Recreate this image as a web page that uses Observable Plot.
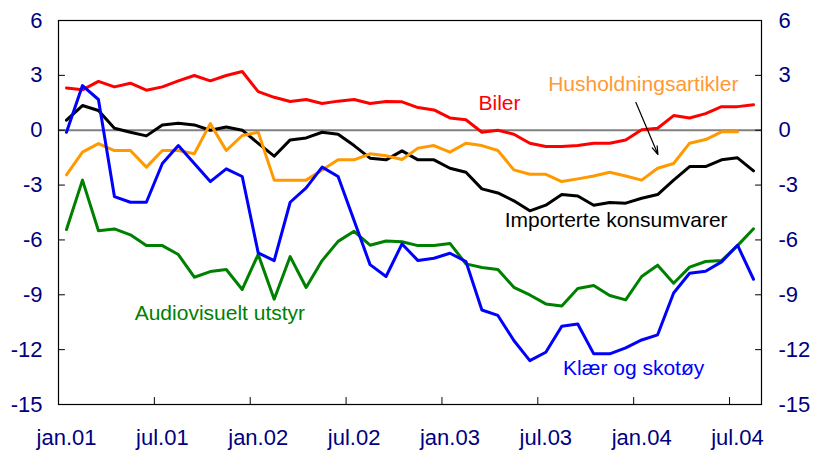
<!DOCTYPE html>
<html>
<head>
<meta charset="utf-8">
<script src="https://cdn.jsdelivr.net/npm/d3@7"></script>
<script src="https://cdn.jsdelivr.net/npm/@observablehq/plot@0.6"></script>
<style>
  html, body { margin: 0; padding: 0; background: #fff; }
  #chart svg { display: block; }
</style>
</head>
<body>
<div id="chart"></div>
<script>
// Monthly observations, jan.01 – aug.04 (44 months), index 0..43
const xTickIdx = [0, 6, 12, 18, 24, 30, 36, 42];
const xTickLabels = ["jan.01", "jul.01", "jan.02", "jul.02", "jan.03", "jul.03", "jan.04", "jul.04"];
const yTicks = [6, 3, 0, -3, -6, -9, -12, -15];

const importerte = [0.55, 1.35, 1.08, 0.11, -0.11, -0.31, 0.29, 0.38, 0.29, 0.0,
  0.18, 0.0, -0.72, -1.42, -0.53, -0.42, -0.11, -0.22, -0.84, -1.53,
  -1.62, -1.13, -1.62, -1.62, -2.08, -2.30, -3.21, -3.43, -3.86, -4.41,
  -4.10, -3.52, -3.60, -4.10, -3.95, -3.99, -3.72, -3.52, -2.73, -1.99,
  -1.99, -1.62, -1.51, -2.22];
const biler = [2.31, 2.21, 2.67, 2.37, 2.57, 2.19, 2.37, 2.70, 2.99, 2.70,
  2.99, 3.21, 2.11, 1.80, 1.57, 1.68, 1.46, 1.59, 1.68, 1.46,
  1.57, 1.55, 1.24, 1.11, 0.67, 0.57, -0.11, 0.0, -0.22, -0.71,
  -0.89, -0.89, -0.84, -0.71, -0.71, -0.53, 0.02, 0.11, 0.80, 0.67,
  0.91, 1.29, 1.29, 1.39];
const husholdning = [-2.44, -1.20, -0.73, -1.11, -1.11, -2.02, -1.11, -1.11, -1.29, 0.36,
  -1.11, -0.29, -0.11, -2.73, -2.73, -2.73, -2.17, -1.62, -1.62, -1.29,
  -1.40, -1.60, -0.98, -0.84, -1.20, -0.71, -0.84, -1.11, -2.17, -2.41,
  -2.41, -2.81, -2.66, -2.50, -2.30, -2.50, -2.73, -2.08, -1.82, -0.71,
  -0.51, -0.09, -0.09, null];
const audiovisuelt = [-5.43, -2.73, -5.50, -5.40, -5.72, -6.31, -6.31, -6.80, -8.04, -7.73,
  -7.62, -8.71, -6.79, -9.24, -6.91, -8.60, -7.13, -6.08, -5.53, -6.29,
  -6.06, -6.10, -6.31, -6.31, -6.19, -7.31, -7.51, -7.62, -8.59, -9.01,
  -9.50, -9.61, -8.66, -8.49, -9.04, -9.28, -8.00, -7.38, -8.37, -7.49,
  -7.18, -7.13, -6.31, -5.39];
const klaer = [-0.11, 2.44, 1.68, -3.63, -3.94, -3.94, -1.82, -0.84, -1.82, -2.81,
  -2.11, -2.53, -6.71, -7.13, -3.94, -3.15, -2.02, -2.53, -4.94, -7.35,
  -8.00, -6.22, -7.13, -7.00, -6.73, -7.18, -9.83, -10.13, -11.50, -12.60,
  -12.14, -10.72, -10.60, -12.23, -12.23, -11.90, -11.47, -11.19, -8.90, -7.82,
  -7.71, -7.20, -6.29, -8.15];

// Series drawing order (back to front) and colours
const seriesNames = ["Importerte konsumvarer", "Biler", "Husholdningsartikler", "Audiovisuelt utstyr", "Klær og skotøy"];
const seriesValues = [importerte, biler, husholdning, audiovisuelt, klaer];
const seriesColors = ["#000000", "#ff0000", "#ff9900", "#008000", "#0000ff"];

// Annotation anchors (month index, value at text baseline)
const labelText = ["Biler", "Husholdningsartikler", "Importerte konsumvarer", "Audiovisuelt utstyr", "Klær og skotøy"];
const labelX = [27.1, 36.1, 34.4, 9.6, 35.5];
const labelY = [1.08, 2.12, -5.30, -10.37, -13.41];
const labelColor = ["#ff0000", "#ff9933", "#000000", "#008000", "#0000ff"];
const arrowFrom = [35.64, 1.51];
const arrowTo = [37.02, -1.33];

const rows = [];
seriesNames.forEach((name, s) => {
  seriesValues[s].forEach((v, i) => rows.push({series: name, i, v}));
});
const labels = labelText.map((t, k) => ({text: t, x: labelX[k], y: labelY[k], color: labelColor[k]}));

const tickShape = {draw(context, l) { context.moveTo(0, 0); context.lineTo(0, -l); }};
const xBoundaries = xTickIdx.slice(1).map(i => i - 0.5);

const chart = Plot.plot({
  width: 813,
  height: 450,
  marginLeft: 58,
  marginRight: 52,
  marginTop: 20,
  marginBottom: 46,
  x: {type: "linear", domain: [-0.5, 43.5]},
  y: {domain: [-15, 6]},
  color: {type: "identity"},
  style: {fontFamily: "'Liberation Sans', Arial, sans-serif", background: "#fff", overflow: "visible"},
  marks: [
    Plot.ruleY([0], {stroke: "#808080", strokeWidth: 2}),
    ...seriesNames.map((name, s) =>
      Plot.line(rows.filter(r => r.series === name), {
        x: "i", y: "v", stroke: seriesColors[s], strokeWidth: 3, strokeLinejoin: "round", strokeLinecap: "round"
      })
    ),
    Plot.frame({stroke: "#000", strokeWidth: 1.2}),
    Plot.vector(yTicks, {y: d => d, frameAnchor: "left", rotate: 90, length: 6, anchor: "start", shape: tickShape, stroke: "#000", strokeWidth: 1}),
    Plot.vector(yTicks, {y: d => d, frameAnchor: "right", rotate: -90, length: 6, anchor: "start", shape: tickShape, stroke: "#000", strokeWidth: 1}),
    Plot.vector(xBoundaries, {x: d => d, frameAnchor: "bottom", rotate: 0, length: 7, anchor: "start", shape: tickShape, stroke: "#000", strokeWidth: 1}),
    Plot.axisY({anchor: "left", ticks: yTicks, tickSize: 0, tickPadding: 16, fontSize: 22, fill: "#000080", tickFormat: d => String(d).replace("−", "-")}),
    Plot.axisY({anchor: "right", ticks: yTicks, tickSize: 0, tickPadding: 17, fontSize: 22, fill: "#000080", tickFormat: d => String(d).replace("−", "-")}),
    Plot.axisX({ticks: xTickIdx, tickSize: 0, tickPadding: 25, fontSize: 22, fill: "#000080", tickFormat: d => xTickLabels[xTickIdx.indexOf(d)]}),
    Plot.text(labels, {x: "x", y: "y", text: "text", fill: "color", textAnchor: "middle", lineAnchor: "bottom", fontSize: 21}),
    Plot.arrow([0], {x1: () => arrowFrom[0], y1: () => arrowFrom[1], x2: () => arrowTo[0], y2: () => arrowTo[1], stroke: "#000", strokeWidth: 1.2, headLength: 11, headAngle: 35, bend: 0})
  ]
});
document.getElementById("chart").appendChild(chart);
</script>
</body>
</html>
